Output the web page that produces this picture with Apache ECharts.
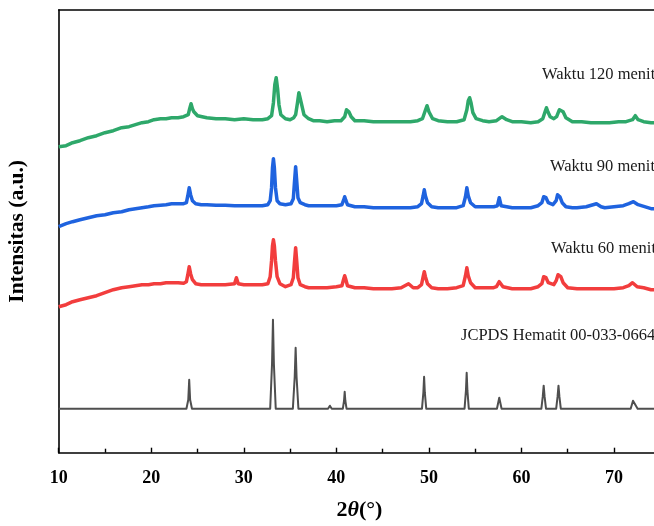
<!DOCTYPE html>
<html>
<head>
<meta charset="utf-8">
<script src="https://cdn.jsdelivr.net/npm/echarts@6/dist/echarts.min.js"></script>
<style>html,body{margin:0;padding:0;background:#fff}#c{width:654px;height:526px}</style>
</head>
<body>
<div id="c"></div>
<script>
// 2θ (deg) vs intensity (a.u., stacked offsets as drawn)
const waktu120 = [[10,306],[10.8,307],[11.5,310],[12.3,312],[13.2,315],[14.1,317],[15,320],[15.9,322],[16.8,325],[17.6,326],[18.3,328],[19.0,330],[19.7,331],[20.3,333],[21,334],[21.6,334],[22.2,335],[22.9,335],[23.5,336],[24.0,338],[24.15,344],[24.3,349],[24.45,344],[24.6,341],[25.0,337],[25.5,336],[26,335],[27,334],[28,334],[29,333],[30,334],[31,333],[32,333],[32.6,334],[33.0,337],[33.2,350],[33.35,368],[33.5,375],[33.65,364],[33.8,348],[34.0,338],[34.5,334],[35.0,333],[35.4,335],[35.6,338],[35.8,350],[35.95,360],[36.05,360],[36.2,350],[36.5,338],[37,334],[37.5,332],[38.2,332],[39,331],[39.8,332],[40.5,332],[40.9,336],[41.1,343],[41.2,345],[41.35,341],[41.6,336],[42,332],[43,332],[44,331],[45,331],[46,331],[47,331],[48,331],[48.8,332],[49.3,334],[49.6,342],[49.8,347],[50.0,341],[50.4,334],[51,332],[52,331],[53,331],[53.8,333],[54.1,343],[54.25,352],[54.4,355],[54.55,350],[54.75,340],[55.1,334],[55.8,332],[56.5,331],[57.3,332],[57.9,336],[58.4,333],[59,331],[60,331],[61,330],[61.8,331],[62.3,334],[62.55,341],[62.7,345],[62.85,341],[63.1,336],[63.5,334],[63.8,336],[64.1,343],[64.3,345],[64.5,341],[64.8,335],[65.5,331],[66.5,331],[67.5,330],[68.5,330],[69.5,330],[70.5,331],[71.3,331],[72.0,333],[72.3,337],[72.6,333],[73.2,331],[74,330],[75,330]];
const waktu90 = [[10,226],[10.8,229],[11.5,231],[12.3,233],[13.2,235],[14.1,237],[15,238],[15.9,240],[16.8,241],[17.6,243],[18.3,244],[19.0,245],[19.7,246],[20.3,247],[21,247.5],[21.6,248],[22.2,249],[22.9,249],[23.5,249],[23.8,250],[23.95,257],[24.1,265],[24.25,258],[24.45,252],[24.8,249],[25.4,248],[26,248],[27,247.5],[28,247.5],[29,247],[30,247],[31,247],[32,247],[32.6,248],[32.85,252],[33.0,265],[33.1,285],[33.2,294],[33.3,285],[33.42,265],[33.6,252],[33.9,249],[34.5,248],[35.1,249],[35.35,254],[35.47,270],[35.6,286],[35.73,270],[35.85,255],[36.1,250],[36.6,248],[37,247],[38,247],[39,247],[40,247],[40.6,248],[40.8,253],[40.9,256],[41.0,253],[41.2,248],[42,246],[43,246],[44,245],[45,245],[46,245],[47,245],[48,245],[48.8,246],[49.2,249],[49.38,257],[49.5,263],[49.62,257],[49.85,250],[50.3,246],[51,245],[52,245],[53,245],[53.7,247],[53.95,256],[54.1,265],[54.25,257],[54.5,250],[55,246],[56,246],[57.0,246],[57.4,247],[57.6,255],[57.8,247],[58.4,246],[59,245],[60,245],[61,245],[61.8,247],[62.2,250],[62.4,256],[62.5,258],[62.65,255],[62.9,250],[63.4,248],[63.75,252],[63.9,258],[64.0,259],[64.15,256],[64.4,250],[64.8,246],[65.5,245],[66,245],[67,246],[68.1,249],[68.6,246],[69,245],[70,246],[71,247],[71.6,249],[72.1,251],[72.6,248],[73.3,246],[74,244],[75,244]];
const waktu60 = [[10,146],[10.8,148],[11.5,151],[12.3,153],[13.2,155],[14.1,157],[15,160],[15.9,163],[16.8,165],[17.6,166],[18.3,167],[19.0,168],[19.7,168],[20.3,169],[21,169],[21.6,170],[22.2,170],[22.9,170],[23.5,169.5],[23.8,171],[23.95,178],[24.1,186],[24.25,179],[24.45,173],[24.8,169],[25.4,168],[26,168],[27,168],[28,168],[29.0,169],[29.2,175],[29.4,169],[30,168],[31,168],[32,168],[32.6,169],[32.85,176],[33.0,192],[33.1,207],[33.2,213],[33.3,207],[33.42,192],[33.6,176],[33.9,169],[34.5,166],[35.1,168],[35.35,175],[35.47,190],[35.6,205],[35.73,190],[35.85,175],[36.1,168],[36.6,166],[37,165],[38,165],[39,165],[40,166],[40.6,167],[40.8,174],[40.9,177],[41.0,174],[41.2,167],[42,165],[43,165],[44,164],[45,164],[46,164],[47,165],[47.8,169],[48.3,165],[48.8,165],[49.2,168],[49.38,176],[49.5,181],[49.62,176],[49.85,169],[50.3,165],[51,164],[52,164],[53,165],[53.7,167],[53.95,177],[54.1,185],[54.25,177],[54.5,170],[55,165],[56,165],[57.0,165],[57.3,166],[57.6,171],[58,166],[59,164],[60,164],[61,164],[61.8,166],[62.2,169],[62.4,176],[62.5,178],[62.65,175],[62.9,170],[63.5,168],[63.75,172],[63.95,178],[64.1,180],[64.25,176],[64.5,170],[65,165],[66,164],[67,164],[68,164],[69,164],[70,164],[71,165],[71.6,167],[72.0,170],[72.5,166],[73.2,165],[74,163],[75,163]];
const jcpds = [[10,44],[23.8,44],[24.0,53],[24.1,73],[24.2,53],[24.4,44],
  [32.85,44],[33.05,89],[33.15,133],[33.25,89],[33.45,44],
  [35.3,44],[35.5,76],[35.6,105],[35.7,76],[35.9,44],
  [39.1,44],[39.3,47],[39.5,44],
  [40.7,44],[40.83,52],[40.9,61],[40.97,52],[41.1,44],
  [43.3,44],[43.5,46],[43.7,44],
  [49.25,44],[49.4,60],[49.48,76],[49.56,60],[49.71,44],
  [53.85,44],[54.0,62],[54.08,80],[54.16,62],[54.31,44],
  [57.35,44],[57.6,55],[57.85,44],
  [62.15,44],[62.3,56],[62.4,67],[62.5,56],[62.65,44],
  [63.75,44],[63.9,56],[64.0,67],[64.1,56],[64.25,44],
  [65.8,44],[66.0,45],[66.2,44],
  [69.4,44],[69.6,46],[69.8,44],
  [71.8,44],[72.05,52],[72.25,50],[72.55,44],[75,44]];
const xTicks = {min: 10, max: 75, interval: 10};
const seriesLabels = ['Waktu 120 menit', 'Waktu 90 menit', 'Waktu 60 menit', 'JCPDS Hematit 00-033-0664'];

const chart = echarts.init(document.getElementById('c'), null, {renderer: 'canvas'});
const serif = '"Liberation Serif", "Times New Roman", serif';
const mk = (name, data, color, w) => ({
  name, type: 'line', data, showSymbol: false, symbol: 'none',
  lineStyle: {color, width: w, join: 'round'}, animation: false, z: 3
});
const txt = (s, x, y) => ({type: 'text', left: x, top: y, style: {text: s, font: '16.5px ' + serif, fill: '#1a1a1a'}});
chart.setOption({
  animation: false,
  grid: {left: 58.7, top: 10, right: -6.3, bottom: 73.3, containLabel: false, outerBoundsMode: 'none'},
  xAxis: [{
    type: 'value', min: xTicks.min, max: xTicks.max, interval: xTicks.interval,
    name: '{a|2}{b|θ}{a|(°)}', nameLocation: 'middle', nameGap: 47,
    nameTextStyle: {rich: {a: {fontFamily: serif, fontWeight: 'bold', fontSize: 22, color: '#000'}, b: {fontFamily: serif, fontWeight: 'bold', fontStyle: 'italic', fontSize: 22, color: '#000'}}},
    axisLine: {lineStyle: {color: '#000', width: 1.6}},
    axisTick: {inside: true, length: 5, lineStyle: {color: '#000', width: 1.4}},
    minorTick: {show: true, splitNumber: 2, length: 4, lineStyle: {color: '#000', width: 1.4}},
    axisLabel: {fontFamily: serif, fontWeight: 'bold', fontSize: 18, color: '#000', margin: 17,
      formatter: v => (v % 10 === 0 ? String(v) : '')},
    splitLine: {show: false}
  }, {
    type: 'value', position: 'top', min: xTicks.min, max: xTicks.max,
    axisLine: {show: true, lineStyle: {color: '#000', width: 1.6}},
    axisTick: {show: false}, axisLabel: {show: false}, splitLine: {show: false}
  }],
  yAxis: {
    type: 'value', min: 0, max: 442.7,
    name: 'Intensitas (a.u.)', nameLocation: 'middle', nameGap: 30, nameRotate: 90,
    nameTextStyle: {fontFamily: serif, fontWeight: 'bold', fontSize: 21.5, color: '#000'},
    axisLine: {show: true, lineStyle: {color: '#000', width: 1.6}},
    axisTick: {show: false}, axisLabel: {show: false}, splitLine: {show: false}
  },
  series: [
    mk(seriesLabels[0], waktu120, '#2ea86a', 3.5),
    mk(seriesLabels[1], waktu90, '#1f63df', 3.5),
    mk(seriesLabels[2], waktu60, '#f23d3d', 3.5),
    mk(seriesLabels[3], jcpds, '#4f4f4f', 2)
  ],
  graphic: [
    txt(seriesLabels[0], 542, 66),
    txt(seriesLabels[1], 550, 158),
    txt(seriesLabels[2], 551, 240),
    txt(seriesLabels[3], 461, 327)
  ]
});
</script>
</body>
</html>
